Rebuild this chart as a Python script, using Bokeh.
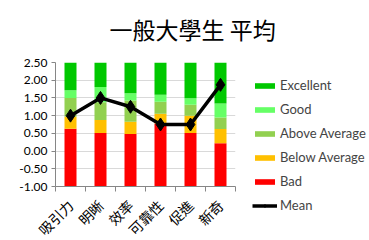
import numpy as np
from math import pi
from bokeh.plotting import figure
from bokeh.models import Range1d, FixedTicker, Legend, LegendItem, Title, NumeralTickFormatter
from bokeh.embed import file_html
from bokeh.resources import INLINE

categories = ["吸引力", "明晰", "效率", "可靠性", "促進", "新奇"]
base = -1.0
bad = [1.63, 1.51, 1.48, 1.78, 1.51, 1.22]
below_average = [0.34, 0.37, 0.35, 0.27, 0.49, 0.40]
above_average = [0.53, 0.50, 0.60, 0.34, 0.31, 0.33]
good = [0.22, 0.43, 0.20, 0.20, 0.18, 0.39]
excellent = [0.78, 0.69, 0.87, 0.91, 1.01, 1.16]
mean = [1.0, 1.5, 1.25, 0.75, 0.75, 1.87]
y_ticks = [-1.0, -0.5, 0.0, 0.5, 1.0, 1.5, 2.0, 2.5]
title_text = "一般大學生 平均"

series = [
    ("Bad", bad, "#FF0000"),
    ("Below Average", below_average, "#FFC000"),
    ("Above Average", above_average, "#92D050"),
    ("Good", good, "#66FF66"),
    ("Excellent", excellent, "#00C800"),
]

p = figure(frame_width=180, frame_height=124, output_backend="svg", toolbar_location=None,
           x_range=Range1d(0, len(categories)), y_range=Range1d(-1.0, 2.5),
           min_border_left=55, min_border_right=0, min_border_top=62, min_border_bottom=50)
p.outline_line_color = None
p.background_fill_color = "white"
p.border_fill_color = "white"

x = np.arange(len(categories)) + 0.5
bottom = np.full(len(categories), base)
renderers = {}
for name, vals, col in series:
    top = bottom + np.array(vals)
    r = p.vbar(x=x, bottom=bottom, top=top, width=0.4, fill_color=col, line_color=None)
    renderers[name] = r
    bottom = top

rl = p.line(x, mean, line_color="black", line_width=3.5)
rs = p.scatter(x, mean, marker="diamond", size=13, fill_color="black", line_color="black")

# axes
p.xgrid.grid_line_color = None
p.ygrid.grid_line_color = "#D9D9D9"
p.ygrid.ticker = FixedTicker(ticks=y_ticks)

p.yaxis.ticker = FixedTicker(ticks=y_ticks)
p.yaxis.formatter = NumeralTickFormatter(format="0.00")
p.yaxis.major_tick_out = 4
p.yaxis.major_tick_in = 0
p.yaxis.minor_tick_out = 0
p.yaxis.axis_line_color = "#868686"
p.yaxis.major_tick_line_color = "#868686"
p.yaxis.major_label_text_font = "Lato"
p.yaxis.major_label_text_font_size = "12px"
p.yaxis.major_label_text_color = "#000000"
p.yaxis.major_label_standoff = 4

p.xaxis.ticker = FixedTicker(ticks=list(x), minor_ticks=list(range(len(categories) + 1)))
p.xaxis.major_label_overrides = {float(xi): c for xi, c in zip(x, categories)}
p.xaxis.major_tick_out = 0
p.xaxis.major_tick_in = 0
p.xaxis.minor_tick_out = 5
p.xaxis.minor_tick_in = 0
p.xaxis.minor_tick_line_color = "#868686"
p.xaxis.axis_line_color = "#868686"
p.xaxis.major_label_orientation = pi / 4
p.xaxis.major_label_text_font = "Noto Sans CJK TC"
p.xaxis.major_label_text_font_size = "14px"
p.xaxis.major_label_text_color = "#000000"
p.xaxis.major_label_standoff = 11

# legend
items = [LegendItem(label=n, renderers=[renderers[n]]) for n in
         ["Excellent", "Good", "Above Average", "Below Average", "Bad"]]
items.append(LegendItem(label="Mean", renderers=[rl, rs]))
legend = Legend(items=items, location=(17, -27), padding=0, margin=12,
                border_line_color=None, background_fill_alpha=0,
                glyph_width=25, glyph_height=7, label_height=14, spacing=8,
                label_standoff=3, label_text_font="Lato", label_text_font_size="13px",
                label_text_baseline="middle")
p.add_layout(legend, "right")

p.title = Title(text=title_text + "\n", align="left", offset=54, standoff=-35,
                vertical_align="bottom",
                text_font="Noto Sans CJK TC", text_font_size="23px",
                text_font_style="normal", text_color="#000000")

open("out.html", "w").write(file_html(p, INLINE))
